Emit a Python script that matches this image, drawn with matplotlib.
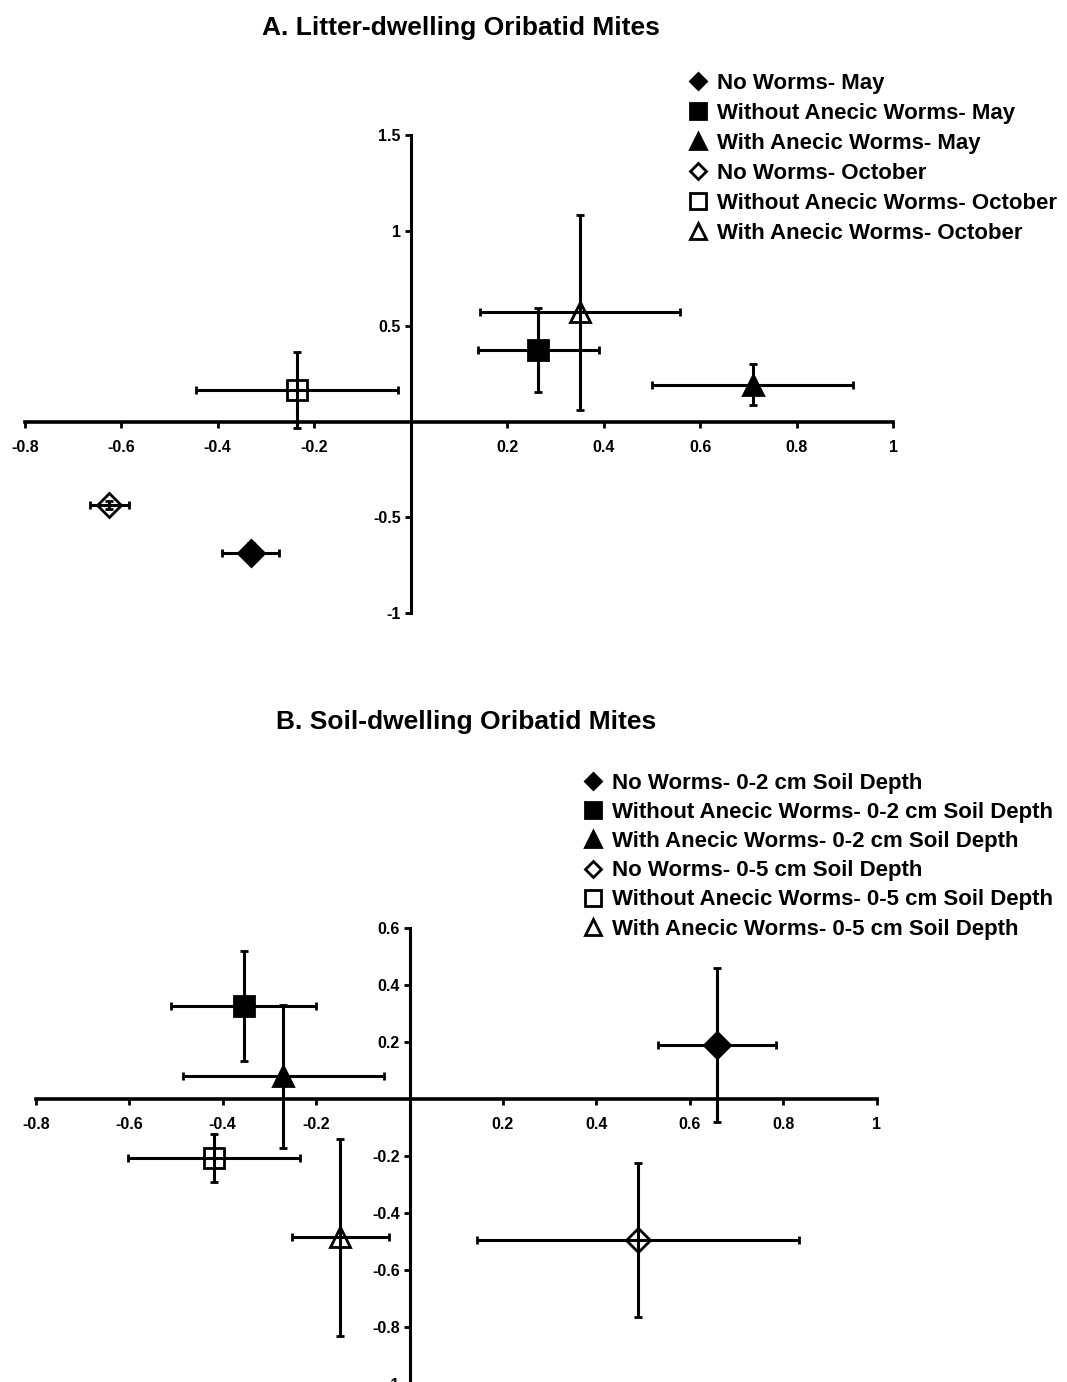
import matplotlib
matplotlib.use("Agg")
import matplotlib.pyplot as plt
from matplotlib.lines import Line2D

plt.rcParams['font.family'] = ['Liberation Sans', 'DejaVu Sans']
plt.rcParams['font.weight'] = 'bold'

# ---- Data: panel A ----
title_A = "A. Litter-dwelling Oribatid Mites"
labels_A = ["No Worms- May", "Without Anecic Worms- May", "With Anecic Worms- May",
            "No Worms- October", "Without Anecic Worms- October", "With Anecic Worms- October"]
x_A = [-0.332, 0.265, 0.709, -0.625, -0.236, 0.351]
y_A = [-0.687, 0.374, 0.192, -0.435, 0.166, 0.572]
xerr_A = [0.059, 0.125, 0.209, 0.040, 0.210, 0.207]
yerr_A = [0.050, 0.220, 0.107, 0.020, 0.200, 0.510]
xticks_A = [-0.8, -0.6, -0.4, -0.2, 0.2, 0.4, 0.6, 0.8, 1]
yticks_A = [-1, -0.5, 0.5, 1, 1.5]

# ---- Data: panel B ----
title_B = "B. Soil-dwelling Oribatid Mites"
labels_B = ["No Worms- 0-2 cm Soil Depth", "Without Anecic Worms- 0-2 cm Soil Depth",
            "With Anecic Worms- 0-2 cm Soil Depth", "No Worms- 0-5 cm Soil Depth",
            "Without Anecic Worms- 0-5 cm Soil Depth", "With Anecic Worms- 0-5 cm Soil Depth"]
x_B = [0.659, -0.355, -0.270, 0.490, -0.418, -0.148]
y_B = [0.189, 0.328, 0.080, -0.496, -0.208, -0.486]
xerr_B = [0.126, 0.155, 0.216, 0.345, 0.184, 0.104]
yerr_B = [0.270, 0.193, 0.252, 0.270, 0.084, 0.346]
xticks_B = [-0.8, -0.6, -0.4, -0.2, 0.2, 0.4, 0.6, 0.8, 1]
yticks_B = [-1, -0.8, -0.6, -0.4, -0.2, 0.2, 0.4, 0.6]

markers = ["D", "s", "^", "D", "s", "^"]
faces = ["black", "black", "black", "white", "white", "white"]
msizes = [13, 15, 15, 12, 15, 15]
leg_sizes = [8, 12, 12, 8, 12, 12]

W, H = 1067, 1382
fig = plt.figure(figsize=(W / 100, H / 100), dpi=100)


def fmt(v):
    return "%g" % v


def make_panel(rect, xs, ys, xe, ye, xt, yt, xlim, ylim):
    ax = fig.add_axes(rect)
    ax.set_xlim(*xlim)
    ax.set_ylim(*ylim)
    for sp in ["top", "right"]:
        ax.spines[sp].set_visible(False)
    ax.spines["left"].set_position(("data", 0))
    ax.spines["bottom"].set_position(("data", 0))
    ax.spines["left"].set_linewidth(2.2)
    ax.spines["bottom"].set_linewidth(2.6)
    ax.set_xticks(xt)
    ax.set_xticklabels([fmt(v) for v in xt])
    ax.set_yticks(yt)
    ax.set_yticklabels([fmt(v) for v in yt])
    ax.tick_params(axis="x", direction="out", length=4, width=2, pad=9, labelsize=11.5)
    ax.tick_params(axis="y", direction="out", length=4, width=2, pad=3, labelsize=11.5)
    for lab in ax.get_xticklabels() + ax.get_yticklabels():
        lab.set_fontweight("bold")
    ax.patch.set_alpha(0)
    for i in range(len(xs)):
        ax.errorbar(xs[i], ys[i], xerr=xe[i], yerr=ye[i], fmt=markers[i],
                    mfc=faces[i], mec="black", mew=2, ms=msizes[i],
                    ecolor="black", elinewidth=2.2, capsize=3, capthick=2.5,
                    barsabove=True, clip_on=False)
    return ax


# Panel A: x -0.8 at px 24.8, 1 at px 893; y -1 at px 612.7, 1.5 at px 135
axA = make_panel([24.8 / W, 1 - 612.7 / H, (893 - 24.8) / W, (612.7 - 135) / H],
                 x_A, y_A, xerr_A, yerr_A, xticks_A, yticks_A, (-0.8, 1), (-1, 1.5))
# Panel B: x -0.8 at px 35.9, 1 at px 876.5; y -1 at px 1383.5, 0.6 at px 928.3
axB = make_panel([35.9 / W, 1 - 1383.5 / H, (876.5 - 35.9) / W, (1383.5 - 928.3) / H],
                 x_B, y_B, xerr_B, yerr_B, xticks_B, yticks_B, (-0.8, 1), (-1, 0.6))

fig.text(461 / W, 1 - 28 / H, title_A, ha="center", va="center", fontsize=19, fontweight="bold")
fig.text(466 / W, 1 - 722 / H, title_B, ha="center", va="center", fontsize=19, fontweight="bold")


def handles(labels):
    return [Line2D([], [], linestyle="none", marker=markers[i], mfc=faces[i], mec="black",
                   mew=2, ms=leg_sizes[i], label=labels[i]) for i in range(len(labels))]


fig.legend(handles=handles(labels_A), loc="upper left", bbox_to_anchor=(689 / W, 1 - 73 / H),
           frameon=False, handlelength=0.8, handletextpad=0.45,
           labelspacing=0.405, borderpad=0, borderaxespad=0, prop={"weight": "bold", "size": 16})
fig.legend(handles=handles(labels_B), loc="upper left", bbox_to_anchor=(584 / W, 1 - 773 / H),
           frameon=False, handlelength=0.8, handletextpad=0.45,
           labelspacing=0.365, borderpad=0, borderaxespad=0, prop={"weight": "bold", "size": 16})

fig.savefig("out.png", dpi=100)
